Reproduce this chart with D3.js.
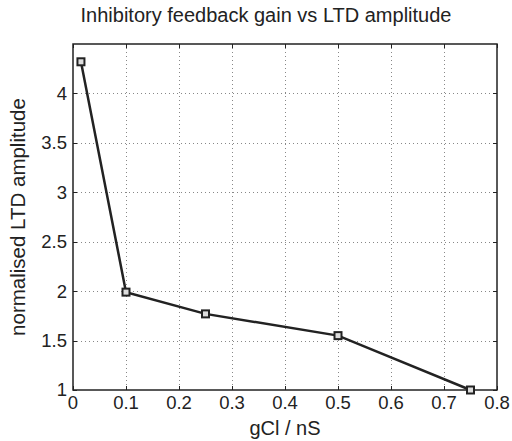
<!DOCTYPE html>
<html>
<head>
    <script src="https://cdn.jsdelivr.net/npm/d3@7/dist/d3.min.js"></script>
</head>
<body style="margin:0;background:#fff">
    <style type="text/css">
        text {
            font-family: "Liberation Sans", Arial, sans-serif;
            fill: #222;
        }
        .grid line {
            stroke: #888;
            stroke-dasharray: 1, 3;
        }
    </style>
    <svg id="chart"></svg>
    <script>
        var gainValues = [0.015, 0.1, 0.25, 0.5, 0.75];
        var ltdValues = [4.32, 1.99, 1.77, 1.55, 1.0];
        var xTicks = [0, 0.1, 0.2, 0.3, 0.4, 0.5, 0.6, 0.7, 0.8];
        var yTicks = [1, 1.5, 2, 2.5, 3, 3.5, 4];

        var margin = { top: 44, left: 73, bottom: 51, right: 15 },
            width = 512 - margin.left - margin.right,
            height = 441 - margin.top - margin.bottom;

        var svg = d3.select("#chart")
            .attr("width", 512)
            .attr("height", 441)
            .append("g")
            .attr("transform", "translate(" + margin.left + "," + margin.top + ")");

        var x = d3.scaleLinear().domain([0, 0.8]).range([0, width]);
        var y = d3.scaleLinear().domain([1, 4.5]).range([height, 0]);

        // dotted grid
        var grid = svg.append("g").attr("class", "grid");
        grid.selectAll(".vx")
            .data(xTicks.filter(function(d) { return d > 0 && d < 0.8; }))
            .enter().append("line")
            .attr("x1", function(d) { return Math.round(x(d)) + 0.5; })
            .attr("x2", function(d) { return Math.round(x(d)) + 0.5; })
            .attr("y1", 0).attr("y2", height);
        grid.selectAll(".hy")
            .data(yTicks.filter(function(d) { return d > 1; }))
            .enter().append("line")
            .attr("y1", function(d) { return Math.round(y(d)) + 0.5; })
            .attr("y2", function(d) { return Math.round(y(d)) + 0.5; })
            .attr("x1", 0).attr("x2", width);

        // inner tick marks on all four sides
        var ticks = svg.append("g").attr("stroke", "#222").attr("stroke-width", 1);
        xTicks.forEach(function(d) {
            var px = Math.round(x(d)) + 0.5;
            ticks.append("line").attr("x1", px).attr("x2", px).attr("y1", height).attr("y2", height - 4);
            ticks.append("line").attr("x1", px).attr("x2", px).attr("y1", 0).attr("y2", 4);
        });
        yTicks.forEach(function(d) {
            var py = Math.round(y(d)) + 0.5;
            ticks.append("line").attr("y1", py).attr("y2", py).attr("x1", 0).attr("x2", 4);
            ticks.append("line").attr("y1", py).attr("y2", py).attr("x1", width).attr("x2", width - 4);
        });

        // box
        svg.append("rect")
            .attr("x", 0).attr("y", 0)
            .attr("width", width).attr("height", height)
            .attr("fill", "none")
            .attr("stroke", "#222")
            .attr("stroke-width", 1.5);

        // tick labels
        svg.selectAll(".xl")
            .data(xTicks)
            .enter().append("text")
            .attr("x", function(d) { return x(d); })
            .attr("y", height + 19)
            .attr("text-anchor", "middle")
            .style("font-size", "18.5px")
            .text(function(d) { return d3.format("")(d); });

        svg.selectAll(".yl")
            .data(yTicks)
            .enter().append("text")
            .attr("x", -6)
            .attr("y", function(d) { return y(d); })
            .attr("dy", "0.35em")
            .attr("text-anchor", "end")
            .style("font-size", "18.5px")
            .text(function(d) { return d3.format("")(d); });

        // line + markers
        var pts = gainValues.map(function(g, i) { return [g, ltdValues[i]]; });
        var line = d3.line()
            .x(function(d) { return x(d[0]); })
            .y(function(d) { return y(d[1]); });

        svg.append("path")
            .datum(pts)
            .attr("fill", "none")
            .attr("stroke", "#222")
            .attr("stroke-width", 2.5)
            .attr("d", line);

        svg.selectAll(".mk")
            .data(pts)
            .enter().append("rect")
            .attr("x", function(d) { return x(d[0]) - 3.5; })
            .attr("y", function(d) { return y(d[1]) - 3.5; })
            .attr("width", 7).attr("height", 7)
            .attr("fill", "#ddd")
            .attr("stroke", "#222")
            .attr("stroke-width", 2);

        // labels
        svg.append("text")
            .attr("x", 266 - margin.left)
            .attr("y", 22 - margin.top)
            .attr("text-anchor", "middle")
            .style("font-size", "20px")
            .text("Inhibitory feedback gain vs LTD amplitude");

        svg.append("text")
            .attr("x", width / 2)
            .attr("y", height + 45)
            .attr("text-anchor", "middle")
            .style("font-size", "20px")
            .text("gCl / nS");

        svg.append("text")
            .attr("transform", "rotate(-90)")
            .attr("x", -height / 2)
            .attr("y", 25 - margin.left)
            .attr("text-anchor", "middle")
            .style("font-size", "20.5px")
            .text("normalised LTD amplitude");
    </script>
</body>
</html>
